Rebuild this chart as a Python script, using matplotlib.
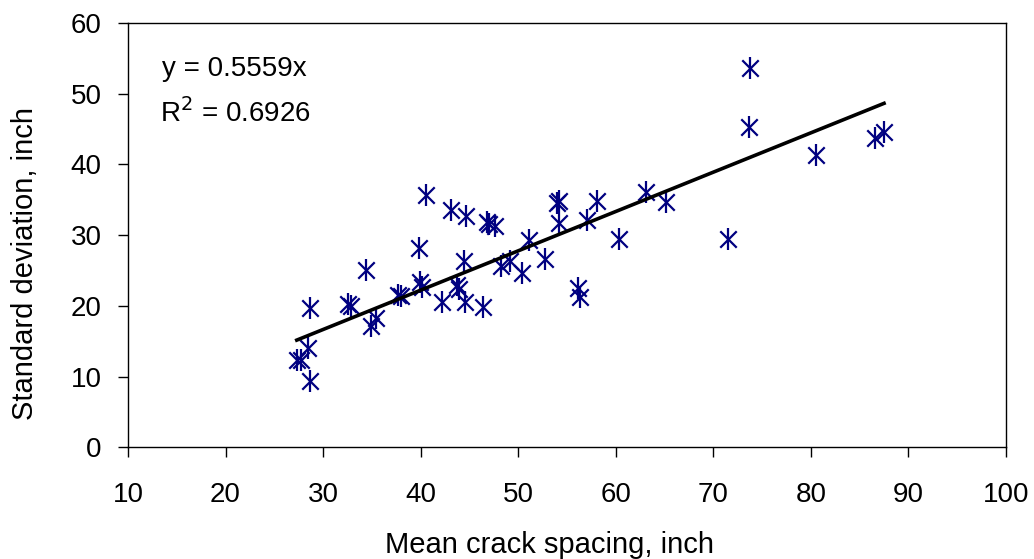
import numpy as np
import matplotlib.pyplot as plt

# mean crack spacing (inch) and standard deviation (inch)
spacing = [27.3, 27.7, 28.5, 28.7, 28.7, 32.5, 32.9, 34.4, 34.9, 35.4,
           37.7, 38.0, 39.8, 39.9, 40.1, 40.5, 42.2, 43.1, 43.7, 43.9,
           44.4, 44.5, 44.6, 46.4, 46.8, 47.0, 47.6, 48.2, 49.2, 50.4,
           51.1, 52.7, 54.0, 54.2, 54.2, 56.1, 56.3, 57.0, 58.1, 60.3,
           63.1, 65.2, 71.5, 73.7, 73.8, 80.5, 86.6, 87.5]
std_dev = [12.4, 12.4, 14.0, 9.4, 19.7, 20.3, 20.0, 25.1, 17.2, 18.3,
           21.6, 21.4, 28.2, 23.4, 22.7, 35.7, 20.5, 33.5, 23.0, 22.4,
           26.3, 20.5, 32.7, 19.8, 31.9, 31.6, 31.3, 25.7, 26.3, 24.6,
           29.3, 26.7, 34.6, 34.9, 31.7, 22.5, 21.3, 32.2, 34.9, 29.4,
           36.1, 34.7, 29.5, 45.3, 53.7, 41.3, 43.7, 44.6]
slope = 0.5559
r2 = 0.6926

plt.rcParams['font.family'] = ['Liberation Sans', 'DejaVu Sans']
fs = 20
W, H = 1034, 559

fig = plt.figure(figsize=(W / 100, H / 100), dpi=100)
ax = fig.add_axes([0.1238, 0.1995, 0.8491, 0.7594])

x = np.array(spacing)
y = np.array(std_dev)
navy = '#000080'
# Excel style star marker: an x with a vertical bar through it
ax.scatter(x, y, marker='x', s=140, color=navy, linewidths=1.6, zorder=3)
ax.scatter(x, y, marker='|', s=250, color=navy, linewidths=1.6, zorder=3)

# linear trend through the origin
xs = np.array([x.min(), x.max()])
ax.plot(xs, slope * xs, color='black', linewidth=2.6, zorder=4)

ax.text(13.5, 52.5, f'y = {slope}x', fontsize=fs, va='baseline', ha='left')
ax.text(13.3, 46.0, f'R$^2$ = {r2}', fontsize=fs, va='baseline', ha='left')

ax.set_xlim(10, 100)
ax.set_ylim(0, 60)
ax.set_xticks(range(10, 101, 10))
ax.set_yticks(range(0, 61, 10))
ax.tick_params(direction='out', length=7, width=1, labelsize=fs)
ax.tick_params(axis='x', pad=18)
ax.tick_params(axis='y', pad=12)
for s in ax.spines.values():
    s.set_linewidth(1)

# axis titles placed where the reference has them (slightly off-centre)
fig.text(549.5 / W, 1 - 553 / H, 'Mean crack spacing, inch', fontsize=21,
         ha='center', va='baseline')
fig.text(33 / W, 1 - 264 / H, 'Standard deviation, inch', fontsize=21,
         ha='center', va='baseline', rotation=90, rotation_mode='anchor')

fig.savefig('out.png', dpi=100)
